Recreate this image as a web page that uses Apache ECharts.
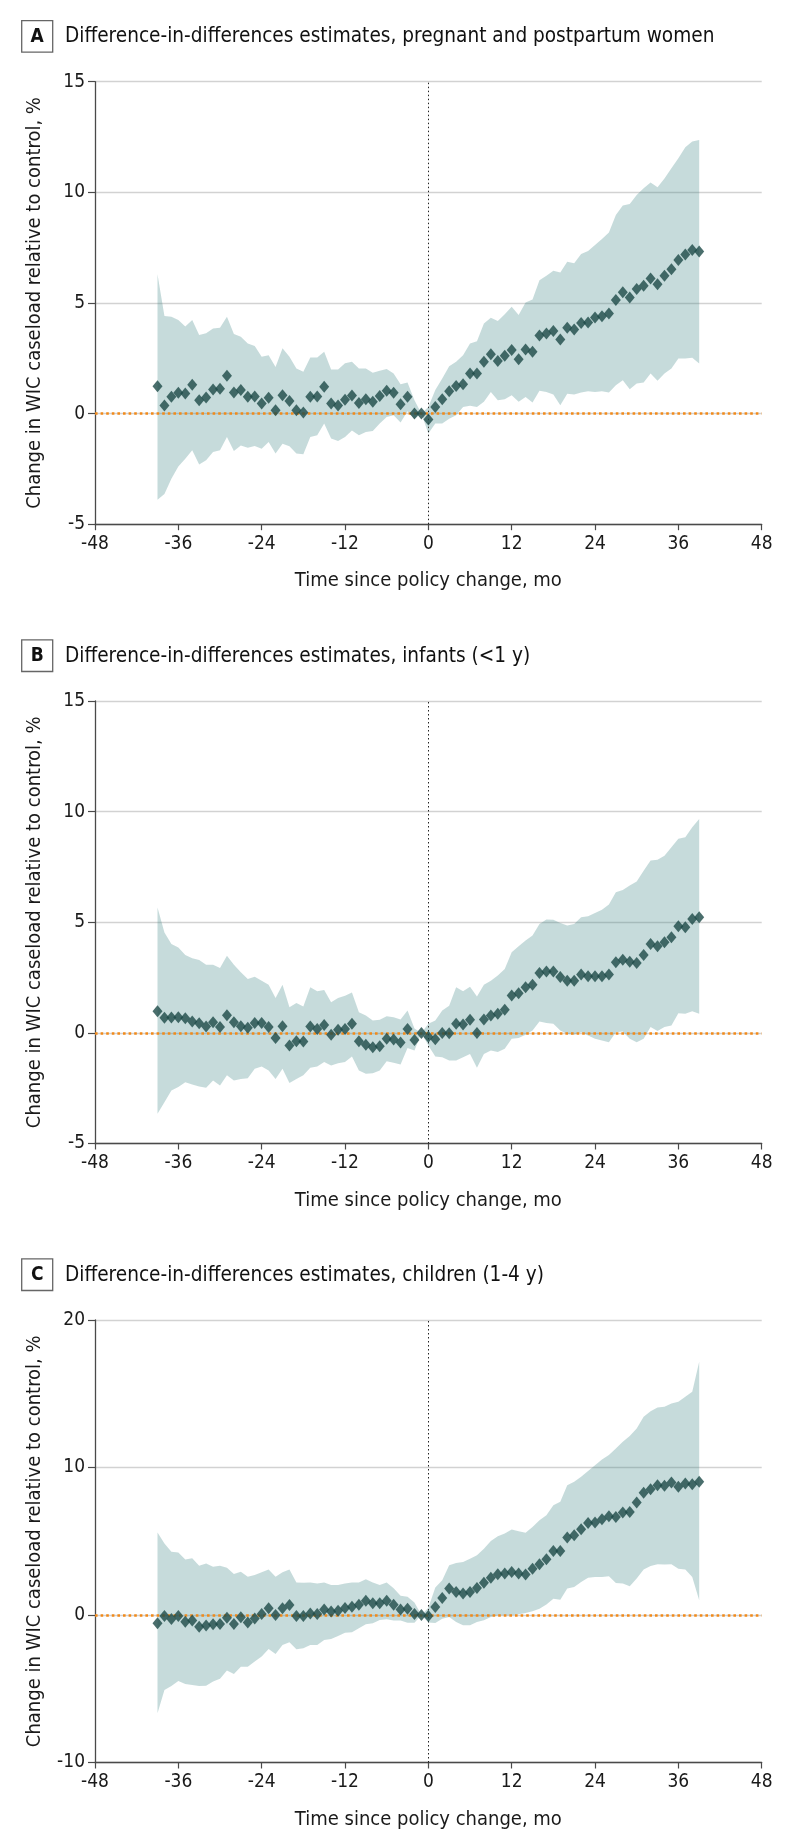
<!DOCTYPE html>
<html>
<head>
<meta charset="utf-8">
<script src="https://cdn.jsdelivr.net/npm/echarts@6/dist/echarts.min.js"></script>
<style>
html,body{margin:0;padding:0;background:#fff;}
#chart{width:794px;height:1847px;}
</style>
</head>
<body>
<div id="chart"></div>
<script>
// ---------------- DATA ----------------
const months = [-39,-38,-37,-36,-35,-34,-33,-32,-31,-30,-29,-28,-27,-26,-25,-24,-23,-22,-21,-20,
  -19,-18,-17,-16,-15,-14,-13,-12,-11,-10,-9,-8,-7,-6,-5,-4,-3,-2,-1,0,
  1,2,3,4,5,6,7,8,9,10,11,12,13,14,15,16,17,18,19,20,
  21,22,23,24,25,26,27,28,29,30,31,32,33,34,35,36,37,38,39];
const xTicks = [-48,-36,-24,-12,0,12,24,36,48];

const titles = [
  'Difference-in-differences estimates, pregnant and postpartum women',
  'Difference-in-differences estimates, infants (<1 y)',
  'Difference-in-differences estimates, children (1-4 y)'
];
const panelLetters = ['A','B','C'];
const yRanges = [[-5,15,5],[-5,15,5],[-10,20,10]];

// Panel A: pregnant and postpartum women
const estA = [1.24,0.36,0.76,0.94,0.91,1.30,0.60,0.73,1.09,1.12,1.71,0.95,1.06,0.76,0.77,0.45,0.71,0.15,0.83,0.57,
  0.15,0.05,0.76,0.77,1.21,0.45,0.36,0.63,0.82,0.48,0.65,0.53,0.79,1.03,0.94,0.42,0.76,0.00,0.00,-0.27,
  0.30,0.65,1.01,1.25,1.33,1.81,1.81,2.34,2.68,2.38,2.61,2.87,2.46,2.90,2.79,3.53,3.62,3.73,3.35,3.88,
  3.80,4.09,4.12,4.34,4.40,4.52,5.13,5.48,5.25,5.63,5.78,6.11,5.84,6.23,6.52,6.94,7.19,7.39,7.32];
const upA = [6.30,4.41,4.38,4.23,3.93,4.23,3.55,3.63,3.85,3.88,4.38,3.60,3.47,3.17,3.05,2.57,2.64,2.11,2.95,2.57,
  2.04,1.89,2.54,2.54,2.79,1.99,1.99,2.27,2.34,2.04,2.04,1.84,1.93,2.01,1.81,1.33,1.40,0.60,0.00,0.30,
  1.06,1.58,2.14,2.34,2.64,3.17,3.27,4.07,4.33,4.18,4.49,4.83,4.45,5.02,5.16,6.03,6.23,6.46,6.38,6.86,
  6.79,7.21,7.35,7.62,7.89,8.18,8.97,9.41,9.47,9.88,10.18,10.44,10.23,10.63,11.09,11.54,12.04,12.30,12.37];
const lowA = [-3.90,-3.63,-2.95,-2.39,-2.04,-1.66,-2.30,-2.11,-1.74,-1.66,-1.06,-1.69,-1.44,-1.54,-1.47,-1.59,-1.28,-1.81,-1.36,-1.48,
  -1.81,-1.84,-1.06,-0.98,-0.45,-1.13,-1.24,-1.06,-0.76,-0.98,-0.83,-0.79,-0.45,-0.15,-0.08,-0.40,0.10,-0.25,0.00,-0.90,
  -0.45,-0.45,-0.23,-0.08,0.30,0.35,0.30,0.53,0.98,0.60,0.65,0.83,0.53,0.75,0.50,1.03,0.98,0.86,0.38,0.90,
  0.86,0.95,1.01,0.98,1.01,0.95,1.28,1.51,1.10,1.36,1.40,1.81,1.48,1.81,2.04,2.49,2.49,2.52,2.26];

// Panel B: infants (<1 y)
const estB = [0.98,0.68,0.69,0.71,0.66,0.51,0.44,0.29,0.48,0.26,0.80,0.48,0.30,0.23,0.45,0.45,0.27,-0.23,0.30,-0.57,
  -0.38,-0.39,0.29,0.17,0.36,-0.08,0.14,0.18,0.41,-0.38,-0.54,-0.65,-0.60,-0.26,-0.30,-0.44,0.17,-0.32,0.00,-0.17,
  -0.29,0.00,-0.02,0.41,0.38,0.59,0.00,0.60,0.78,0.86,1.05,1.69,1.79,2.06,2.18,2.71,2.77,2.77,2.52,2.36,
  2.36,2.64,2.56,2.56,2.56,2.64,3.19,3.30,3.22,3.16,3.52,4.02,3.92,4.10,4.32,4.82,4.77,5.15,5.23];
const upB = [5.67,4.54,4.02,3.86,3.52,3.37,3.29,3.08,3.08,2.93,3.49,3.08,2.74,2.44,2.54,2.36,2.18,1.58,2.18,1.16,
  1.35,1.19,2.06,1.88,1.94,1.38,1.58,1.68,1.83,0.93,0.78,0.56,0.59,0.75,0.71,0.60,1.01,0.20,0.00,0.41,
  0.56,1.01,1.23,2.06,1.88,2.09,1.64,2.18,2.36,2.59,2.89,3.64,3.92,4.17,4.40,4.92,5.12,5.11,4.97,4.85,
  4.92,5.23,5.27,5.42,5.56,5.80,6.36,6.46,6.66,6.84,7.33,7.79,7.82,8.01,8.39,8.77,8.84,9.29,9.67];
const lowB = [-3.65,-3.13,-2.60,-2.45,-2.23,-2.33,-2.42,-2.48,-2.15,-2.38,-1.92,-2.15,-2.08,-2.05,-1.62,-1.52,-1.70,-2.08,-1.62,-2.27,
  -2.08,-1.92,-1.58,-1.52,-1.32,-1.47,-1.37,-1.32,-1.07,-1.70,-1.85,-1.82,-1.70,-1.28,-1.35,-1.43,-0.68,-0.80,0.00,-0.57,
  -1.07,-1.10,-1.25,-1.25,-1.10,-0.95,-1.58,-0.95,-0.80,-0.87,-0.72,-0.27,-0.23,-0.08,0.11,0.51,0.45,0.41,0.11,-0.05,
  -0.08,0.03,-0.12,-0.27,-0.35,-0.42,0.03,0.06,-0.27,-0.42,-0.27,0.26,0.08,0.26,0.33,0.89,0.86,0.98,0.86];

// Panel C: children (1-4 y)
const estC = [-0.56,-0.07,-0.27,-0.07,-0.45,-0.38,-0.79,-0.72,-0.63,-0.61,-0.18,-0.61,-0.16,-0.50,-0.23,0.07,0.45,0.00,0.45,0.68,
  -0.07,-0.07,0.11,0.07,0.38,0.23,0.29,0.47,0.56,0.70,0.97,0.79,0.79,0.97,0.70,0.38,0.43,0.07,0.00,-0.07,
  0.54,1.15,1.79,1.56,1.45,1.56,1.83,2.19,2.53,2.76,2.81,2.92,2.81,2.74,3.14,3.44,3.78,4.34,4.34,5.25,
  5.41,5.81,6.24,6.27,6.49,6.70,6.65,6.95,6.99,7.62,8.28,8.53,8.80,8.76,8.98,8.69,8.91,8.87,9.03];
const upC = [5.60,4.85,4.29,4.24,3.77,3.84,3.34,3.50,3.27,3.34,3.21,2.78,2.93,2.60,2.71,2.89,3.09,2.60,2.89,3.09,
  2.21,2.19,2.21,2.14,2.21,2.03,2.03,2.14,2.21,2.21,2.42,2.21,2.03,2.21,1.81,1.31,1.24,0.84,0.00,0.50,
  1.86,2.35,3.37,3.53,3.60,3.82,4.05,4.50,5.02,5.34,5.52,5.79,5.68,5.57,5.97,6.43,6.76,7.44,7.67,8.80,
  9.03,9.37,9.77,10.16,10.54,10.84,11.29,11.74,12.13,12.65,13.44,13.82,14.07,14.12,14.34,14.46,14.80,15.14,17.17];
const lowC = [-6.66,-5.08,-4.81,-4.47,-4.67,-4.74,-4.81,-4.79,-4.51,-4.33,-3.77,-4.00,-3.50,-3.50,-3.16,-2.82,-2.30,-2.64,-2.03,-1.85,
  -2.32,-2.26,-2.03,-2.03,-1.69,-1.63,-1.42,-1.20,-1.17,-0.90,-0.63,-0.56,-0.34,-0.29,-0.38,-0.38,-0.52,-0.52,0.00,-0.50,
  -0.54,-0.25,-0.14,-0.48,-0.70,-0.70,-0.48,-0.36,-0.14,-0.02,-0.02,-0.02,0.05,0.14,0.25,0.43,0.72,1.11,1.04,1.79,
  1.90,2.24,2.53,2.58,2.58,2.62,2.17,2.13,1.95,2.47,3.08,3.33,3.44,3.42,3.44,3.14,3.08,2.58,1.00];

const estimates = [estA, estB, estC];
const uppers = [upA, upB, upC];
const lowers = [lowA, lowB, lowC];

// ---------------- STYLE / LAYOUT ----------------
const FONT = '"Liberation Sans Narrow","DejaVu Sans Condensed","Liberation Sans",sans-serif';
const gridTops = [81.7, 701, 1320];
const gridH = 442.5;
const gridLeft = 95;
const gridW = 666.7;
const AXIS_COLOR = '#4a4a4a';
const TEXT_COLOR = '#1a1a1a';

const chart = echarts.init(document.getElementById('chart'), null, {renderer:'canvas', width:794, height:1847});

const grids = [], xAxes = [], yAxes = [], series = [], graphics = [];

function bandRenderer(up, low) {
  return function (params, api) {
    const pts = [];
    for (let k = 0; k < months.length; k++) pts.push(api.coord([months[k], up[k]]));
    for (let k = months.length - 1; k >= 0; k--) pts.push(api.coord([months[k], low[k]]));
    return {
      type: 'polygon',
      shape: {points: pts},
      style: {fill: 'rgba(60,132,132,0.29)', stroke: 'none'},
      silent: true
    };
  };
}

for (let i = 0; i < 3; i++) {
  grids.push({left: gridLeft, top: gridTops[i], width: gridW, height: gridH, containLabel: false});
  xAxes.push({
    gridIndex: i, type: 'value', min: xTicks[0], max: xTicks[xTicks.length-1], interval: 12,
    axisLine: {show: true, onZero: false, lineStyle: {color: AXIS_COLOR, width: 1.3}},
    axisTick: {show: true, length: 6, lineStyle: {color: AXIS_COLOR, width: 1.2}},
    axisLabel: {fontSize: 19, color: TEXT_COLOR, margin: 10, fontFamily: FONT},
    splitLine: {show: false},
    name: 'Time since policy change, mo', nameLocation: 'middle', nameGap: 47,
    nameTextStyle: {fontSize: 20, color: TEXT_COLOR, fontFamily: FONT}
  });
  yAxes.push({
    gridIndex: i, type: 'value', min: yRanges[i][0], max: yRanges[i][1], interval: yRanges[i][2],
    axisLine: {show: true, onZero: false, lineStyle: {color: AXIS_COLOR, width: 1.3}},
    axisTick: {show: true, length: 7, lineStyle: {color: AXIS_COLOR, width: 1.2}},
    axisLabel: {fontSize: 19, color: TEXT_COLOR, margin: 10, fontFamily: FONT},
    splitLine: {show: true, lineStyle: {color: '#d2d2d2', width: 1.3}},
    name: 'Change in WIC caseload relative to control, %', nameLocation: 'middle', nameGap: 50,
    nameTextStyle: {fontSize: 20, color: TEXT_COLOR, fontFamily: FONT}
  });

  const est = estimates[i];
  series.push({
    type: 'custom', xAxisIndex: i, yAxisIndex: i,
    data: [[months[0], lowers[i][0]]],
    renderItem: bandRenderer(uppers[i], lowers[i]),
    silent: true, z: 1, clip: true
  });
  series.push({
    type: 'line', xAxisIndex: i, yAxisIndex: i, data: [], silent: true, z: 3,
    markLine: {
      silent: true, symbol: 'none', label: {show: false}, animation: false,
      data: [
        {xAxis: 0, lineStyle: {color: '#222', width: 1, type: [1.5, 2.5]}},
        {yAxis: 0, lineStyle: {color: '#f28a1a', width: 2.6, type: [2.6, 3]}}
      ]
    }
  });
  series.push({
    type: 'scatter', xAxisIndex: i, yAxisIndex: i,
    data: months.map((m, k) => [m, est[k]]),
    symbol: 'diamond', symbolSize: [10, 12],
    itemStyle: {color: '#1d4a47'}, z: 5
  });

  const cy = gridTops[i] - 45.3;
  graphics.push({
    type: 'rect', shape: {x: 21.7, y: cy - 15.8, width: 31, height: 31.6},
    style: {fill: '#fff', stroke: '#666', lineWidth: 1.3}
  });
  graphics.push({
    type: 'text', x: 37.2, y: cy + 0.5,
    style: {text: panelLetters[i], font: 'bold 19px ' + FONT, fill: '#111', align: 'center', verticalAlign: 'middle'}
  });
  graphics.push({
    type: 'text', x: 65, y: cy + 0.5,
    style: {text: titles[i], font: '20.6px ' + FONT, fill: '#111', align: 'left', verticalAlign: 'middle'}
  });
}

chart.setOption({
  animation: false,
  backgroundColor: '#fff',
  textStyle: {fontFamily: FONT},
  grid: grids, xAxis: xAxes, yAxis: yAxes, series: series, graphic: graphics
});
</script>
</body>
</html>
